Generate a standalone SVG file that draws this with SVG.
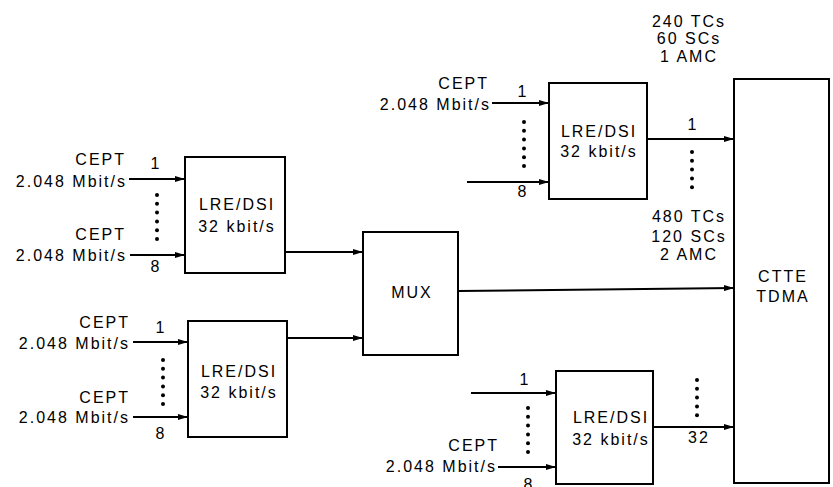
<svg xmlns="http://www.w3.org/2000/svg" width="833" height="487" viewBox="0 0 833 487">
<defs>
<marker id="arr" viewBox="0 0 10 6" refX="10" refY="3" markerWidth="10" markerHeight="6" markerUnits="userSpaceOnUse" orient="auto">
<path d="M0,0 L10,3 L0,6 Z" fill="#000"/>
</marker>
<g id="dots6">
<circle cx="0" cy="0" r="2"/><circle cx="0" cy="8.8" r="2"/><circle cx="0" cy="17.6" r="2"/><circle cx="0" cy="26.4" r="2"/><circle cx="0" cy="35.2" r="2"/><circle cx="0" cy="44" r="2"/>
</g>
<g id="dots5">
<circle cx="0" cy="0" r="2"/><circle cx="0" cy="8.8" r="2"/><circle cx="0" cy="17.6" r="2"/><circle cx="0" cy="26.4" r="2"/><circle cx="0" cy="35.2" r="2"/>
</g>
</defs>
<style>
text{font-family:"Liberation Sans",Arial,sans-serif;font-size:16px;letter-spacing:2px;fill:#000}
.e{text-anchor:end}
.m{text-anchor:middle}
.b{fill:#fff;stroke:#000;stroke-width:2}
.bg{fill:#fff;stroke:none}
.c line{stroke:#000;stroke-width:2;marker-end:url(#arr)}
circle{fill:#000}
</style>
<rect class="bg" width="833" height="487"/>

<g id="lre1">
<rect class="b" x="185" y="157" width="100" height="116"/>
<text class="m" x="237" y="210">LRE/DSI</text>
<text class="m" x="237" y="232">32 kbit/s</text>
</g>
<g id="lre2">
<rect class="b" x="188" y="321" width="99" height="116"/>
<text class="m" x="239" y="377">LRE/DSI</text>
<text class="m" x="239" y="398">32 kbit/s</text>
</g>
<g id="lre3">
<rect class="b" x="549" y="83" width="98" height="116"/>
<text class="m" x="599" y="137">LRE/DSI</text>
<text class="m" x="599" y="157">32 kbit/s</text>
</g>
<g id="lre4">
<rect class="b" x="556" y="371" width="97" height="113"/>
<text class="m" x="611" y="423">LRE/DSI</text>
<text class="m" x="611" y="445">32 kbit/s</text>
</g>
<g id="mux">
<rect class="b" x="363" y="232" width="95" height="123"/>
<text class="m" x="412" y="298">MUX</text>
</g>
<g id="ctte">
<rect class="b" x="734" y="79" width="95" height="404"/>
<text class="m" x="783" y="282">CTTE</text>
<text class="m" x="783" y="302">TDMA</text>
</g>

<g id="labels">
<text class="e" x="126" y="165">CEPT</text>
<text class="e" x="127" y="187">2.048 Mbit/s</text>
<text class="e" x="126" y="240">CEPT</text>
<text class="e" x="127" y="261">2.048 Mbit/s</text>
<text class="m" x="156" y="169">1</text>
<text class="m" x="156" y="272">8</text>

<text class="e" x="130" y="328">CEPT</text>
<text class="e" x="130" y="349">2.048 Mbit/s</text>
<text class="e" x="130" y="403">CEPT</text>
<text class="e" x="130" y="423">2.048 Mbit/s</text>
<text class="m" x="161" y="333">1</text>
<text class="m" x="161" y="439">8</text>

<text class="e" x="489" y="89">CEPT</text>
<text class="e" x="491" y="110">2.048 Mbit/s</text>
<text class="m" x="523" y="97">1</text>
<text class="m" x="523" y="197">8</text>

<text class="m" x="525" y="385">1</text>
<text class="e" x="499" y="451">CEPT</text>
<text class="e" x="497" y="472">2.048 Mbit/s</text>
<text class="m" x="529" y="490">8</text>

<text class="m" x="693" y="130">1</text>
<text class="m" x="699" y="443">32</text>

<text class="m" x="689" y="27">240 TCs</text>
<text class="m" x="689" y="44">60 SCs</text>
<text class="m" x="689" y="62">1 AMC</text>
<text class="m" x="689" y="222">480 TCs</text>
<text class="m" x="689" y="242">120 SCs</text>
<text class="m" x="689" y="260">2 AMC</text>
</g>

<g id="dots">
<use href="#dots6" x="157" y="195"/>
<use href="#dots6" x="163" y="360"/>
<use href="#dots6" x="524" y="122"/>
<use href="#dots6" x="528" y="408"/>
<use href="#dots5" x="692" y="152"/>
<use href="#dots5" x="697" y="380"/>
</g>

<g id="connectors" class="c">
<line x1="129" y1="179" x2="185" y2="179"/>
<line x1="130" y1="255" x2="185" y2="255"/>
<line x1="133" y1="342" x2="188" y2="342"/>
<line x1="133" y1="417" x2="188" y2="417"/>
<line x1="492" y1="103" x2="549" y2="103"/>
<line x1="467" y1="182" x2="549" y2="182"/>
<line x1="471" y1="393" x2="556" y2="393"/>
<line x1="498" y1="467" x2="556" y2="467"/>
<line x1="285" y1="252" x2="363" y2="252"/>
<line x1="287" y1="338" x2="363" y2="338"/>
<line x1="458" y1="291" x2="734" y2="288"/>
<line x1="647" y1="139" x2="734" y2="139"/>
<line x1="653" y1="427" x2="734" y2="427"/>
</g>
</svg>
